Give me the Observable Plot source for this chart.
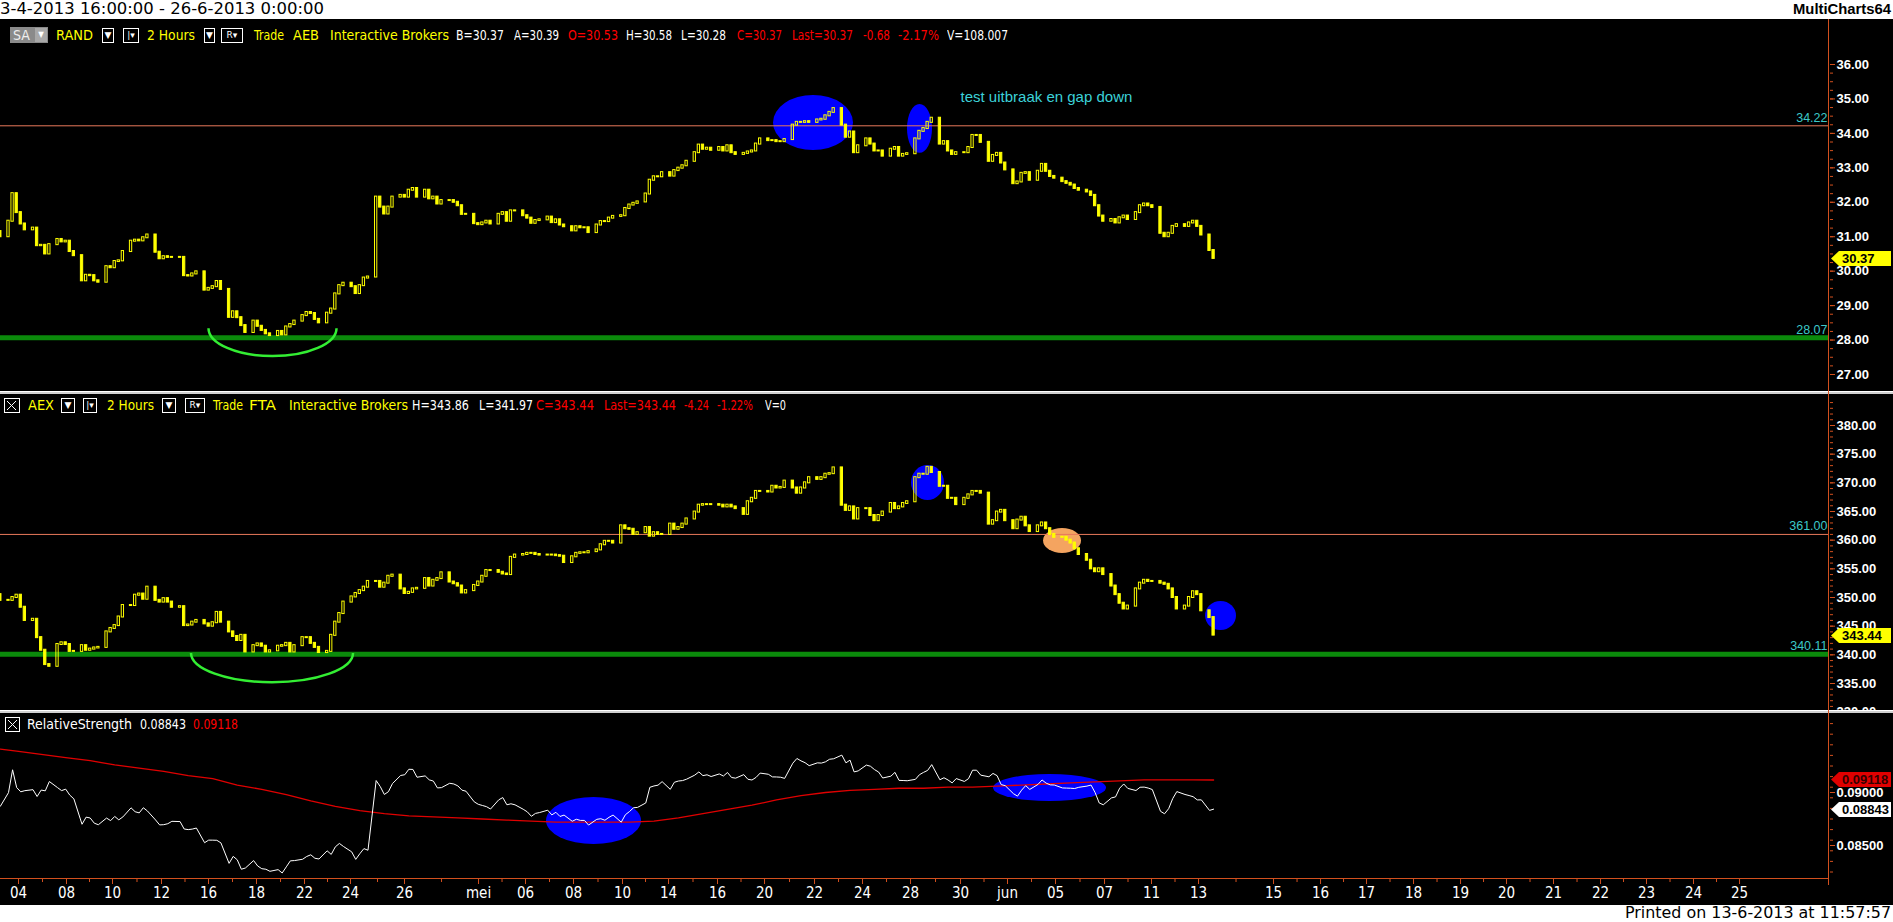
<!DOCTYPE html>
<html><head><meta charset="utf-8">
<script src="https://cdn.jsdelivr.net/npm/d3@7"></script>
<script src="https://cdn.jsdelivr.net/npm/@observablehq/plot@0.6"></script>
<style>
html,body{margin:0;padding:0;background:#fff;overflow:hidden;}
#root{position:relative;width:1893px;height:922px;background:#fff;overflow:hidden;}
.abs{position:absolute;white-space:nowrap;}
.cond{font-family:"DejaVu Sans Condensed","DejaVu Sans",sans-serif;font-stretch:condensed;font-size:14px;}
.box{position:absolute;border:1px solid #fff;box-sizing:border-box;color:#fff;font-size:9px;text-align:center;font-family:"DejaVu Sans",sans-serif;}
svg{display:block;}
</style></head>
<body><div id="root"></div>
<script>
// ---------------- DATA ----------------
const tradingDays = ["3-4","4-4","5-4","8-4","9-4","10-4","11-4","12-4","15-4","16-4","17-4","18-4","19-4","22-4","23-4","24-4","25-4","26-4","29-4","30-4",
  "2-5","3-5","6-5","7-5","8-5","9-5","10-5","13-5","14-5","15-5","16-5","17-5","20-5","21-5","22-5","23-5","24-5","27-5","28-5","29-5","30-5","31-5",
  "3-6","4-6","5-6","6-6","7-6","10-6","11-6","12-6","13-6"];

// RAND 2-hour closes, five bars per trading day
const randCloses = [
  [null,null,null,31.15,31.0],
  [31.45,32.25,31.7,31.37,31.2],
  [31.25,30.74,30.75,30.5,30.77],
  [30.92,30.85,30.87,30.57,30.45],
  [29.72,29.88,29.87,29.72,29.68],
  [30.13,30.1,30.28,30.3,30.57],
  [30.87,30.9,30.88,30.97,31.05],
  [30.55,30.36,30.42,30.4,30.4],
  [30.4,29.87,29.86,29.92,29.98],
  [29.45,29.5,29.55,29.7,29.47],
  [28.66,28.82,28.65,28.42,28.22],
  [28.55,28.4,28.28,28.18,28.13],
  [28.25,28.15,28.38,28.45,28.55],
  [28.71,28.8,28.77,28.6,28.5],
  [28.78,28.9,29.34,29.58,29.65],
  [29.55,29.35,29.58,29.8,29.83],
  [32.15,31.86,31.66,31.86,32.15],
  [32.2,32.15,32.35,32.4,32.15],
  [32.35,32.1,32.15,31.95,32.05],
  [32.05,32.0,31.9,31.65,31.65],
  [31.38,31.35,31.4,31.45,31.37],
  [31.65,31.7,31.45,31.75,31.75],
  [31.61,31.54,31.39,31.47,31.49],
  [31.57,31.41,31.49,31.34,31.29],
  [31.17,31.29,31.26,31.26,31.12],
  [31.34,31.44,31.44,31.54,31.59],
  [31.61,31.82,31.92,31.97,32.01],
  [32.24,32.64,32.74,32.74,32.86],
  [32.76,32.92,32.99,33.06,33.19],
  [33.44,33.66,33.54,33.57,33.51],
  [33.59,33.49,33.64,33.44,33.39],
  [33.42,33.46,33.49,33.69,33.84],
  [33.79,33.79,33.76,33.76,33.82],
  [34.24,34.32,34.32,34.34,34.32],
  [34.39,34.41,34.51,34.61,34.72],
  [34.24,33.89,34.04,33.44,33.64],
  [33.84,33.69,33.49,33.49,33.34],
  [33.54,33.59,33.34,33.39,33.41],
  [33.84,34.06,34.14,34.32,34.44],
  [33.69,33.76,33.49,33.39,33.44],
  [33.44,33.59,33.94,33.94,33.74],
  [33.19,33.36,33.42,33.14,32.94],
  [32.54,32.59,32.84,32.86,32.64],
  [32.9,33.1,32.9,32.75,32.7],
  [32.6,32.55,32.5,32.4,32.35],
  [32.3,32.2,31.9,31.6,31.45],
  [31.5,31.4,31.55,31.6,31.5],
  [31.7,31.9,31.95,31.9,31.85],
  [31.1,31.0,31.1,31.3,31.35],
  [31.3,31.4,31.45,31.3,31.05],
  [30.6,30.37,null,null,null]
];

// AEX 2-hour closes, five bars per trading day
const aexCloses = [
  [null,null,null,350.5,349.5],
  [349.5,350.0,350.4,348.3,346.0],
  [346.2,343.0,340.8,338.3,338.0],
  [341.8,342.1,341.8,340.6,340.6],
  [341.6,340.8,341.0,341.2,341.3],
  [344.0,344.6,345.1,346.6,348.6],
  [348.6,350.4,350.6,349.7,351.8],
  [349.5,349.2,349.8,349.2,348.3],
  [348.4,345.1,345.2,345.7,346.0],
  [345.4,345.0,345.6,347.4,345.7],
  [344.0,343.2,342.5,343.4,340.5],
  [341.6,341.9,341.5,340.5,340.7],
  [341.5,341.6,342.0,340.5,341.6],
  [343.0,343.0,342.0,341.3,340.4],
  [340.6,343.4,345.7,347.2,349.2],
  [350.1,350.7,351.2,351.8,352.8],
  [352.8,351.8,352.5,353.7,353.9],
  [351.5,350.7,350.9,351.5,351.6],
  [353.3,352.0,353.0,353.3,354.3],
  [352.7,352.4,352.0,350.8,351.2],
  [352.1,352.7,353.7,354.7,354.7],
  [354.4,354.1,354.0,357.0,357.4],
  [357.5,357.7,357.7,357.5,357.4],
  [357.4,357.4,357.3,357.2,356.1],
  [357.1,357.7,357.8,357.8,358.0],
  [358.3,359.2,359.8,359.8,359.5],
  [362.5,362.0,361.9,361.0,361.3],
  [362.2,360.7,361.3,361.0,361.0],
  [362.8,361.9,362.2,362.8,363.7],
  [364.9,366.1,366.2,366.2,366.2],
  [366.1,365.8,366.1,365.8,365.5],
  [364.5,366.7,367.3,368.5,368.5],
  [368.4,369.4,369.1,369.2,370.3],
  [369.1,368.2,369.1,370.0,370.9],
  [370.6,370.9,371.5,371.6,372.6],
  [366.1,365.2,365.8,363.7,365.5],
  [365.5,364.3,363.4,364.3,364.9],
  [366.4,365.5,365.8,366.4,366.7],
  [370.9,371.5,371.5,372.7,371.8],
  [369.4,369.4,367.3,367.3,366.2],
  [367.3,367.9,368.5,368.5,368.2],
  [362.8,363.4,364.9,365.2,363.4],
  [362.0,363.5,364.0,362.5,361.5],
  [362.5,363.0,362.0,361.0,360.5],
  [360.5,360.0,359.5,358.5,357.5],
  [356.5,355.0,354.5,355.0,354.0],
  [352.0,350.5,349.0,348.0,348.5],
  [351.5,352.5,353.0,352.8,352.8],
  [352.5,352.3,351.5,350.0,348.0],
  [348.5,350.0,351.0,350.5,347.68],
  [346.5,343.44,null,null,null]
];

// Red average of the relative strength, one reading per trading day
const rsAverage = [0.0941,0.0939,0.0936,0.0933,0.0930,0.0926,0.0923,0.0920,0.0916,0.0913,0.0907,0.0903,0.0898,0.0892,0.0887,0.0883,0.0880,0.0878,0.0877,0.0876,
  0.0875,0.0874,0.0873,0.0872,0.0872,0.0872,0.0872,0.0873,0.0876,0.0880,0.0884,0.0888,0.0893,0.0897,0.0900,0.0902,0.0903,0.0904,0.0904,0.0905,
  0.0905,0.0906,0.0907,0.0908,0.0909,0.0910,0.0911,0.0912,0.0912,0.0912,0.09118];

const randTicks = [27,28,29,30,31,32,33,34,35,36];
const aexTicks = [330,335,340,345,350,355,360,365,370,375,380];
const rsTicks = [0.085,0.09];
const randLevels = [34.22];
const randSupport = [28.07];
const aexLevels = [361.00];
const aexSupport = [340.11];
const randLast = 30.37, aexLast = 343.44, rsLast = 0.08843, rsAvgLast = 0.09118;

// time-axis labels and where they sit on the bar-slot axis
const xLabelTexts = ["04","08","10","12","16","18","22","24","26","mei","06","08","10","14","16","20","22","24","28","30","jun","05","07","11","13",
  "15","16","17","18","19","20","21","22","23","24","25"];
const xLabelSlots = [2.45,14.2,25.46,37.45,48.96,60.71,72.46,83.72,96.94,115.06,126.56,138.31,150.31,161.57,173.56,185.07,197.31,209.06,220.81,233.05,244.55,256.3,268.3,279.8,291.31,
  309.67,321.18,332.44,343.94,355.45,366.71,378.21,389.72,400.98,412.48,423.75];

// ---------------- BUILD ----------------
const YELLOW="#ffff00", BLUE="#0000ff", AXIS="#d2501e", CYAN="#3cc8c8", GREEN_LINE="#0b8a0b", ARC="#33ee33", SALMON="#e8785a";
const W = 1893, X_DOMAIN = [-1.958, 445.77];
const slotOf = (i, k) => 6 * (i - 1) + k;
const noText = () => "";

function buildCandles(series) {
  const out = []; let prev = null;
  series.forEach((day, i) => day.forEach((c, k) => {
    if (c == null) return;
    out.push({slot: slotOf(i, k), open: prev == null ? c : prev, close: c});
    prev = c;
  }));
  return out;
}
const randCandles = buildCandles(randCloses);
const aexCandles = buildCandles(aexCloses);
const rsData = [];
randCloses.forEach((day, i) => day.forEach((c, k) => {
  const a = aexCloses[i][k];
  if (c != null && a != null) rsData.push({slot: slotOf(i, k), rs: c / a});
}));
const lastSlot = rsData[rsData.length - 1].slot;
const rsAvgData = rsAverage.map((v, i) => ({slot: i === 0 ? slotOf(0, 4) : i === rsAverage.length - 1 ? lastSlot : slotOf(i, 2), v}));

function ellipses(list) {
  return (index, {x, y}) => {
    const g = d3.create("svg:g");
    for (const e of list) {
      const cx = x(e.slot), cy = y(e.value);
      g.append("ellipse").attr("cx", cx).attr("cy", cy)
        .attr("rx", Math.abs(x(e.slot + e.dSlot) - cx)).attr("ry", Math.abs(y(e.value + e.dValue) - cy))
        .attr("fill", e.fill);
    }
    return g.node();
  };
}
function arc(e) {
  return (index, {x, y}) => {
    const cx = x(e.slot), cy = y(e.value);
    const rx = Math.abs(x(e.slot + e.dSlot) - cx), ry = Math.abs(y(e.value + e.dValue) - cy);
    return d3.create("svg:path").attr("d", `M${cx - rx},${cy} A${rx},${ry} 0 0 0 ${cx + rx},${cy}`)
      .attr("fill", "none").attr("stroke", ARC).attr("stroke-width", 2.5).node();
  };
}
function priceTags(list) {
  return (index, {y}, values, {width, marginRight}) => {
    const g = d3.create("svg:g");
    for (const t of list) {
      const yy = Math.round(y(t.value)) + 0.5, x0 = width - marginRight + 2;
      g.append("path").attr("d", `M${x0},${yy} L${x0 + 8},${yy - 7.5} L${width - 2},${yy - 7.5} L${width - 2},${yy + 7.5} L${x0 + 8},${yy + 7.5} Z`)
        .attr("fill", t.fill);
      g.append("text").attr("x", x0 + 11).attr("y", yy).attr("dy", "0.36em").attr("fill", t.color).attr("text-anchor", "start")
        .attr("font-family", "Liberation Sans, Arial, sans-serif").attr("font-size", 13).attr("font-weight", "bold").text(t.text);
    }
    return g.node();
  };
}
const candleOpts = {x1: d => d.slot - 0.28, x2: d => d.slot + 0.28, y1: "open", y2: "close", stroke: YELLOW, strokeWidth: 1, insetTop: -0.5, insetBottom: -0.5};
const upMark = (data) => Plot.rect(data.filter(d => d.close >= d.open), {...candleOpts, fill: "none"});
const downMark = (data) => Plot.rect(data.filter(d => d.close < d.open), {...candleOpts, fill: YELLOW});
const yAxis = (ticks, fmt, minor) => [
  Plot.axisY({anchor: "right", ticks: minor, tickFormat: noText, tickSize: 3, stroke: AXIS}),
  Plot.axisY({anchor: "right", ticks, tickFormat: fmt, tickSize: 5, tickPadding: 2, stroke: AXIS, fill: "white", fontSize: 13, fontWeight: "bold", fontFamily: "Liberation Sans, Arial, sans-serif"})
];
const levelLabel = (vals, fmt) => Plot.text(vals, {y: d => d, text: d => fmt(d), frameAnchor: "right", textAnchor: "end", dx: -2, dy: -8, fill: CYAN, fontSize: 12.5, fontFamily: "Liberation Sans, Arial, sans-serif"});

function panel({height, marginTop, marginBottom, yDomain, marks}) {
  return Plot.plot({width: W, height, marginLeft: 0, marginRight: 64, marginTop, marginBottom,
    x: {domain: X_DOMAIN, axis: null}, y: {domain: yDomain},
    style: {background: "transparent", color: "white"}, marks});
}

const root = document.getElementById("root");
function place(node, left, top) { node.style.position = "absolute"; node.style.left = left + "px"; node.style.top = top + "px"; root.appendChild(node); return node; }
function div(left, top, w, h, bg) { const d = document.createElement("div"); d.style.width = w + "px"; d.style.height = h + "px"; d.style.background = bg; return place(d, left, top); }

// black chart area
div(0, 19, 1893, 886, "#000");

// Panel 1 : RAND
const p1 = panel({height: 372, marginTop: 45, marginBottom: 17, yDomain: [27, 36], marks: [
  ellipses([{slot: 197.06, value: 34.3, dSlot: 9.79, dValue: 0.8, fill: BLUE}, {slot: 223.13, value: 34.13, dSlot: 3.06, dValue: 0.71, fill: BLUE}]),
  Plot.ruleY(randLevels, {stroke: SALMON, strokeWidth: 1}),
  Plot.ruleY(randSupport, {stroke: GREEN_LINE, strokeWidth: 5}),
  arc({slot: 64.75, value: 28.33, dSlot: 15.67, dValue: 0.81}),
  upMark(randCandles), downMark(randCandles),
  Plot.text(["test uitbraak en gap down"], {x: 233.05, y: 35.04, text: d => d, textAnchor: "start", fill: "#3cd2d8", fontSize: 15, fontFamily: "Liberation Sans, Arial, sans-serif"}),
  levelLabel(randLevels.concat(randSupport), d => d.toFixed(2)),
  ...yAxis(randTicks, d => d.toFixed(2), d3.range(27, 36.01, 0.25)),
  priceTags([{value: randLast, text: randLast.toFixed(2), fill: YELLOW, color: "#000"}])
]});
place(p1, 0, 19);

// Panel 2 : AEX
const p2 = panel({height: 316, marginTop: 31, marginBottom: 27, yDomain: [335, 380], marks: [
  ellipses([{slot: 225.09, value: 369.97, dSlot: 4.04, dValue: 3.05, fill: BLUE}, {slot: 258.02, value: 359.85, dSlot: 4.65, dValue: 2.18, fill: "#f4a460"}, {slot: 296.82, value: 346.77, dSlot: 3.79, dValue: 2.53, fill: BLUE}]),
  Plot.ruleY(aexLevels, {stroke: SALMON, strokeWidth: 1}),
  Plot.ruleY(aexSupport, {stroke: GREEN_LINE, strokeWidth: 5}),
  arc({slot: 64.63, value: 340.23, dSlot: 19.83, dValue: 5.1}),
  upMark(aexCandles), downMark(aexCandles),
  levelLabel(aexLevels.concat(aexSupport), d => d.toFixed(2)),
  ...yAxis(aexTicks, d => d.toFixed(2), d3.range(330, 385, 1)),
  priceTags([{value: aexLast, text: aexLast.toFixed(2), fill: YELLOW, color: "#000"}])
]});
place(p2, 0, 394);

// Panel 3 : Relative strength
const p3 = panel({height: 165, marginTop: 79, marginBottom: 33, yDomain: [0.085, 0.09], marks: [
  ellipses([{slot: 143.33, value: 0.08731, dSlot: 11.63, dValue: 0.00222, fill: BLUE}, {slot: 254.96, value: 0.09042, dSlot: 13.83, dValue: 0.00127, fill: BLUE}]),
  Plot.line(rsAvgData, {x: "slot", y: "v", stroke: "#e00000", strokeWidth: 1.3}),
  Plot.line(rsData, {x: "slot", y: "rs", stroke: "white", strokeWidth: 1}),
  ...yAxis(rsTicks, d => d.toFixed(5), d3.range(0.0815, 0.0975, 0.001)),
  priceTags([{value: rsAvgLast, text: rsAvgLast.toFixed(5), fill: "#e00000", color: "#300"}, {value: rsLast, text: rsLast.toFixed(5), fill: "#fff", color: "#000"}])
]});
place(p3, 0, 713);

// X axis
const labelMap = new Map(xLabelSlots.map((s, i) => [s, xLabelTexts[i]]));
const midSlots = d3.pairs(xLabelSlots).map(([a, b]) => (a + b) / 2);
const px = Plot.plot({width: W, height: 27, marginLeft: 0, marginRight: 64, marginTop: 1, marginBottom: 26,
  x: {domain: X_DOMAIN}, style: {background: "transparent", color: "white"},
  marks: [
    Plot.axisX({ticks: midSlots, tickFormat: noText, tickSize: 3, stroke: AXIS}),
    Plot.axisX({ticks: xLabelSlots, tickFormat: d => labelMap.get(d), tickSize: 5, tickPadding: 3, stroke: AXIS, fill: "white", fontSize: 15, fontFamily: "Liberation Sans Narrow, DejaVu Sans Condensed, sans-serif"})
  ]});
place(px, 0, 878);
div(0, 878, 1829, 1, AXIS);

// separators and price axis line
div(0, 391, 1893, 3, "#d0d0d0"); div(0, 391, 1893, 1, "#ffffff");
div(0, 710, 1893, 3, "#d0d0d0"); div(0, 710, 1893, 1, "#ffffff");
div(1828, 19, 1, 866, AXIS);

// ---------------- TEXTS ----------------
function txt(x, yc, text, color, cls = "cond", extra = {}, fitWidth = null) {
  const s = document.createElement("div"); s.className = "abs " + cls; s.textContent = text;
  s.style.left = x + "px"; s.style.top = (yc - 9) + "px"; s.style.height = "18px"; s.style.lineHeight = "18px"; s.style.color = color;
  Object.assign(s.style, extra); root.appendChild(s);
  if (fitWidth) {
    const w = s.getBoundingClientRect().width;
    if (w > 0) { s.style.transformOrigin = "left center"; s.style.transform = `scaleX(${fitWidth / w})`; }
  }
  return s;
}
function box(x, yc, w, content) {
  const b = document.createElement("div"); b.className = "box"; b.innerHTML = content;
  b.style.left = x + "px"; b.style.top = (yc - 7) + "px"; b.style.width = w + "px"; b.style.height = "15px"; b.style.lineHeight = "13px";
  root.appendChild(b); return b;
}
const xBox = '<svg width="13" height="13"><line x1="2" y1="2" x2="11" y2="11" stroke="#fff"/><line x1="11" y1="2" x2="2" y2="11" stroke="#fff"/></svg>';
const Y = "#ffff00", Wh = "#ffffff", R = "#ff0000";

// top white header and footer
txt(0, 9, "3-4-2013 16:00:00 - 26-6-2013 0:00:00", "#000", "", {fontFamily: "DejaVu Sans, sans-serif", fontSize: "16px"}, 324);
txt(1793, 9, "MultiCharts64", "#000", "", {fontFamily: "Liberation Sans, Arial, sans-serif", fontSize: "15px", fontWeight: "bold"}, 98);
txt(1625, 913, "Printed on 13-6-2013 at 11:57:57", "#000", "", {fontFamily: "DejaVu Sans, sans-serif", fontSize: "16px"}, 266);

// RAND header (y 35)
const sa = document.createElement("div"); sa.className = "abs cond";
sa.style.cssText += "left:10px;top:27px;width:38px;height:16px;background:#8a8a8a;color:#eee;line-height:16px;padding-left:3px;box-sizing:border-box;";
sa.innerHTML = 'SA<span style="position:absolute;left:25px;top:1px;width:12px;height:14px;background:#a8a8a8;font-size:8px;line-height:14px;text-align:center;color:#fff">&#9660;</span>';
root.appendChild(sa);
const head1 = [[56,"RAND",Y,37],[147,"2 Hours",Y,48],[254,"Trade",Y,30],[293,"AEB",Y,26],[330,"Interactive Brokers",Y,119],[456,"B=30.37",Wh,48],[514,"A=30.39",Wh,45],[568,"O=30.53",R,50],[626,"H=30.58",Wh,46],[681,"L=30.28",Wh,45],[737,"C=30.37",R,45],[792,"Last=30.37",R,61],[863,"-0.68",R,27],[898,"-2.17%",R,41],[947,"V=108.007",Wh,61]];
head1.forEach(([x, t, c, w]) => txt(x, 35, t, c, "cond", {}, w));
box(102, 35, 12, "&#9660;"); box(123, 35, 16, "|&#9662;"); box(204, 35, 11, "&#9660;"); box(221, 35, 22, "R&#9662;");

// AEX header (y 405)
box(4, 405, 16, xBox);
const head2 = [[28,"AEX",Y,26],[107,"2 Hours",Y,47],[213,"Trade",Y,30],[249,"FTA",Y,27],[289,"Interactive Brokers",Y,119],[412,"H=343.86",Wh,57],[479,"L=341.97",Wh,54],[536,"C=343.44",R,58],[604,"Last=343.44",R,72],[684,"-4.24",R,25],[717,"-1.22%",R,36],[765,"V=0",Wh,21]];
head2.forEach(([x, t, c, w]) => txt(x, 405, t, c, "cond", {}, w));
box(61, 405, 14, "&#9660;"); box(83, 405, 14, "|&#9662;"); box(162, 405, 14, "&#9660;"); box(185, 405, 20, "R&#9662;");

// RS header (y 724)
box(5, 724, 15, xBox);
txt(27, 724, "RelativeStrength", Wh, "cond", {}, 105); txt(140, 724, "0.08843", Wh, "cond", {}, 46); txt(193, 724, "0.09118", R, "cond", {}, 45);
</script>
</body></html>
